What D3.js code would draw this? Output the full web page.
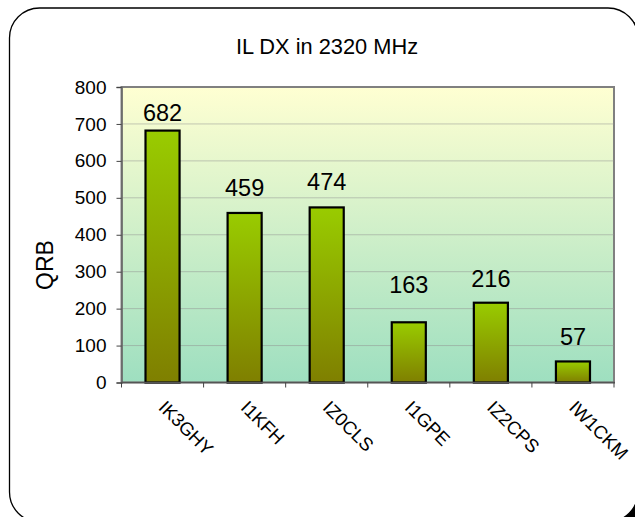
<!DOCTYPE html>
<html>
<head>
<meta charset="utf-8">
<script src="https://cdn.jsdelivr.net/npm/d3@7"></script>
<style>
body { margin: 0; background: #fff; }
text { font-family: "Liberation Sans", Arial, sans-serif; fill: #000; }
</style>
</head>
<body>
<svg id="chart" width="635" height="517"></svg>
<script>
const categories = ["IK3GHY", "I1KFH", "IZ0CLS", "I1GPE", "IZ2CPS", "IW1CKM"];
const values = [682, 459, 474, 163, 216, 57];
const labelGap = [10, 17, 17, 29, 16, 16];
const yTicks = [0, 100, 200, 300, 400, 500, 600, 700, 800];
const title = "IL DX in 2320 MHz";
const yTitle = "QRB";

const svg = d3.select("#chart");
const defs = svg.append("defs");

const bg = defs.append("linearGradient").attr("id", "bg").attr("x1", 0).attr("y1", 0).attr("x2", 0).attr("y2", 1);
bg.append("stop").attr("offset", "0%").attr("stop-color", "#FFFFD2");
bg.append("stop").attr("offset", "100%").attr("stop-color", "#9EDFC0");

const bar = defs.append("linearGradient").attr("id", "bar").attr("x1", 0).attr("y1", 0).attr("x2", 0).attr("y2", 1);
bar.append("stop").attr("offset", "0%").attr("stop-color", "#99CC00");
bar.append("stop").attr("offset", "100%").attr("stop-color", "#7F7F00");

// frame with shadow
svg.append("rect").attr("x", 17).attr("y", 15).attr("width", 628).attr("height", 514)
  .attr("rx", 30).attr("ry", 30).attr("fill", "#000");
svg.append("rect").attr("x", 9.5).attr("y", 8).attr("width", 628.5).attr("height", 514)
  .attr("rx", 30).attr("ry", 30).attr("fill", "#fff").attr("stroke", "#000").attr("stroke-width", 1.3);

const L = 121.5, R = 614, T = 87, B = 382.5;
const x = d3.scaleBand().domain(categories).range([L, R]).paddingInner(0.585).paddingOuter(0.2925);
const y = d3.scaleLinear().domain([0, 800]).range([B, T]);

// plot background
svg.append("rect").attr("x", L).attr("y", T).attr("width", R - L).attr("height", B - T)
  .attr("fill", "url(#bg)").attr("stroke", "#808080").attr("stroke-width", 2);

// gridlines
svg.append("g").selectAll("line").data(yTicks.filter(d => d > 0 && d < 800)).join("line")
  .attr("x1", L).attr("x2", R).attr("y1", d => y(d)).attr("y2", d => y(d))
  .attr("stroke", "#909090").attr("stroke-width", 1).attr("stroke-dasharray", "1,1");

// bars
svg.append("g").selectAll("rect").data(values).join("rect")
  .attr("x", (d, i) => x(categories[i]))
  .attr("y", d => y(d))
  .attr("width", x.bandwidth())
  .attr("height", d => B - y(d))
  .attr("fill", "url(#bar)").attr("stroke", "#000").attr("stroke-width", 2.2);

// y axis
const yAxis = d3.axisLeft(y).tickValues(yTicks).tickSize(5).tickPadding(10).tickFormat(d3.format("d"));
const ga = svg.append("g").attr("transform", `translate(${L},0)`).call(yAxis);
ga.select(".domain").attr("stroke", "#666").attr("stroke-width", 1.5);
ga.selectAll(".tick line").attr("stroke", "#444");
ga.selectAll(".tick text").style("font-size", "19px").style("font-family", "Liberation Sans, Arial, sans-serif").attr("fill", "#000");

// x axis
const gx = svg.append("g").attr("transform", `translate(0,${B})`);
gx.append("line").attr("x1", L).attr("x2", R + 1).attr("y1", 0).attr("y2", 0).attr("stroke", "#555").attr("stroke-width", 1.5);
const bounds = d3.range(categories.length + 1).map(i => L + i * x.step());
gx.selectAll("line.tk").data(bounds).join("line").attr("class", "tk")
  .attr("x1", d => d).attr("x2", d => d).attr("y1", 0).attr("y2", 5).attr("stroke", "#444");
gx.selectAll("text").data(categories).join("text")
  .attr("transform", d => `translate(${x(d) + x.bandwidth() / 2 - 5},${26}) rotate(45)`)
  .attr("text-anchor", "start")
  .style("font-size", "18.5px")
  .text(d => d);

// value labels
svg.append("g").selectAll("text").data(values).join("text")
  .attr("x", (d, i) => x(categories[i]) + x.bandwidth() / 2)
  .attr("y", (d, i) => y(d) - labelGap[i])
  .attr("text-anchor", "middle")
  .style("font-size", "23.5px")
  .text(d => d);

// title
svg.append("text").attr("x", 327).attr("y", 54).attr("text-anchor", "middle")
  .style("font-size", "21.8px").text(title);

// y title
svg.append("text").attr("transform", "translate(53,265) rotate(-90)").attr("text-anchor", "middle")
  .style("font-size", "23px").text(yTitle);
</script>
</body>
</html>
